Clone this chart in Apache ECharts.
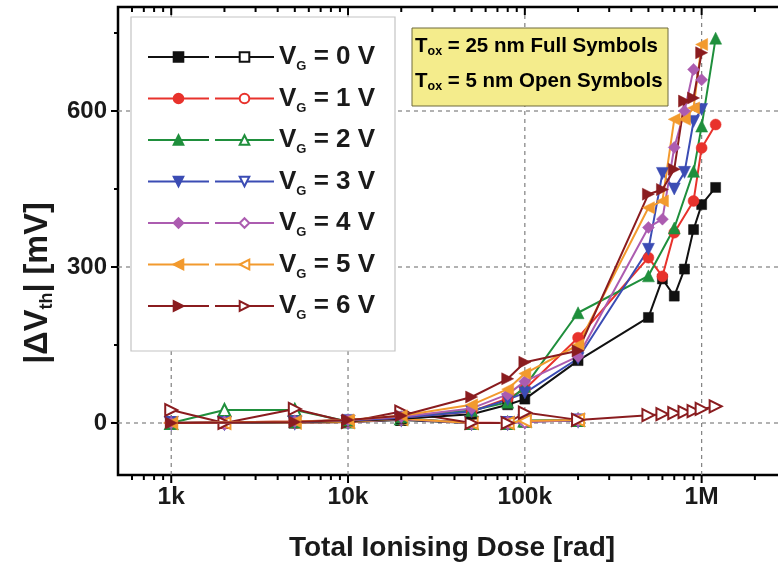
<!DOCTYPE html>
<html>
<head>
<meta charset="utf-8">
<script src="https://cdn.jsdelivr.net/npm/echarts@6/dist/echarts.min.js"></script>
<style>
  html, body { margin: 0; padding: 0; background: #fff; width: 778px; height: 567px; overflow: hidden; }
  #chart { width: 800px; height: 567px; }
</style>
</head>
<body>
<div id="chart"></div>
<script>
// Threshold-voltage shift vs. total ionising dose, 25 nm (full) and 5 nm (open) oxides
const doseThick = [1e3, 5e3, 1e4, 2e4, 5e4, 8e4, 1e5, 2e5, 5e5, 6e5, 7e5, 8e5, 9e5, 1e6, 1.2e6];
const thickVG0 = [0, 2, 4, 8, 17, 35, 46, 120, 203, 277, 244, 296, 372, 420, 453];
const thickVG1 = [0, 3, 5, 10, 22, 47, 65, 164, 318, 282, 366, null, 427, 529, 574];
const thickVG2 = [0, 2, 6, 12, 24, 40, 70, 212, 283, null, 375, null, 484, 571, 740];
const thickVG3 = [0, 2, 5, 10, 22, 45, 58, 124, 334, 480, 450, 482, 580, 603, null];
const thickVG4 = [0, 3, 6, 12, 28, 55, 80, 128, 376, 392, 530, 600, 680, 660, null];
const thickVG5 = [0, 3, 6, 14, 35, 65, 95, 150, 414, 427, 584, 584, 606, 728, null];
const thickVG6 = [0, 2, 6, 14, 50, 85, 117, 139, 440, 449, 488, 619, 625, 712, null];

const doseThin = [1e3, 2e3, 5e3, 1e4, 2e4, 5e4, 8e4, 1e5, 2e5, 5e5, 6e5, 7e5, 8e5, 9e5, 1e6, 1.2e6];
const thinVG0 = [0, 0, 1, 2, 6, 0, 0, 3, 5];
const thinVG1 = [0, 0, 1, 2, 7, 1, 0, 4, 5];
const thinVG2 = [0, 25, 25, 3, 9, 0, 0, 5, 6];
const thinVG3 = [0, 0, 1, 2, 7, 0, 0, 3, 5];
const thinVG4 = [0, 0, 2, 2, 8, 0, 0, 2, 6];
const thinVG5 = [0, 0, 1, 2, 8, 0, 0, 4, 6];
const thinVG6 = [25, 0, 27, 2, 22, 0, 0, 20, 6, 15, 17, 19, 21, 23, 27, 32];

const gateVoltages = [0, 1, 2, 3, 4, 5, 6];
const thickValues = [thickVG0, thickVG1, thickVG2, thickVG3, thickVG4, thickVG5, thickVG6];
const thinValues = [thinVG0, thinVG1, thinVG2, thinVG3, thinVG4, thinVG5, thinVG6];

// axis ranges and tick positions
const X_MIN = 500, X_MAX = 3e6;
const Y_MIN = -100, Y_MAX = 800;
const xTickMajor = [1e3, 1e4, 1e5, 1e6];
const xTickMinor = [600, 700, 800, 900,
  2e3, 3e3, 4e3, 5e3, 6e3, 7e3, 8e3, 9e3,
  2e4, 3e4, 4e4, 5e4, 6e4, 7e4, 8e4, 9e4,
  2e5, 3e5, 4e5, 5e5, 6e5, 7e5, 8e5, 9e5, 2e6];
const yTickMajor = [0, 300, 600];
const yTickMinor = [150, 450, 750];
const xLabelText = { 3: '1k', 4: '10k', 5: '100k', 6: '1M' };

// styling per gate voltage
const colors = ['#111111', '#e8322c', '#1f8f3c', '#3b4cb4', '#ac5cb0', '#f29a2e', '#8a1c1f'];
const shapes = ['Rect', 'Circle', 'Triangle', 'Triangle', 'Diamond', 'Triangle', 'Triangle'];
const rotations = [0, 0, 0, 180, 0, 90, -90];
const sizes = [10, 11, 12, 12, 12, 12, 12];

const FONT = '"Liberation Sans", Arial, sans-serif';

function pairs(doses, values) {
  const out = [];
  values.forEach((v, i) => { if (v !== null && v !== undefined) out.push([doses[i], v]); });
  return out;
}

function lineSeries(k, open) {
  const c = colors[k];
  return {
    name: (open ? 'thin' : 'thick') + gateVoltages[k],
    type: 'line',
    data: open ? pairs(doseThin, thinValues[k]) : pairs(doseThick, thickValues[k]),
    symbol: open ? 'empty' + shapes[k] : shapes[k].toLowerCase(),
    symbolSize: sizes[k],
    symbolRotate: rotations[k],
    color: c,
    lineStyle: { color: c, width: 2 },
    itemStyle: { color: c, borderColor: c, borderWidth: open ? 1.5 : 0.5 },
    z: open ? 3 : 4,
    silent: true
  };
}

const stroke = { stroke: '#000', lineWidth: 2 };

function xTickSeries(values, len) {
  return {
    type: 'custom', silent: true, z: 6, clip: false,
    data: values.map(v => [v, Y_MIN]),
    renderItem(params, api) {
      const b = api.coord([api.value(0), Y_MIN]);
      const t = api.coord([api.value(0), Y_MAX]);
      return { type: 'group', children: [
        { type: 'line', shape: { x1: b[0], y1: b[1], x2: b[0], y2: b[1] + len }, style: stroke },
        { type: 'line', shape: { x1: t[0], y1: t[1], x2: t[0], y2: t[1] + len }, style: stroke }
      ] };
    }
  };
}

function yTickSeries(values, len) {
  return {
    type: 'custom', silent: true, z: 6, clip: false,
    data: values.map(v => [X_MIN, v]),
    renderItem(params, api) {
      const p = api.coord([X_MIN, api.value(1)]);
      return { type: 'line', shape: { x1: p[0] - len, y1: p[1], x2: p[0], y2: p[1] }, style: stroke };
    }
  };
}

const dash = { stroke: '#808080', lineWidth: 1.2, lineDash: [4, 4] };

const gridLineSeries = [
  {
    type: 'custom', silent: true, z: 1,
    data: xTickMajor.map(v => [v, Y_MIN]),
    renderItem(params, api) {
      const a = api.coord([api.value(0), Y_MIN]);
      const b = api.coord([api.value(0), Y_MAX]);
      return { type: 'line', shape: { x1: a[0], y1: a[1], x2: b[0], y2: b[1] }, style: dash };
    }
  },
  {
    type: 'custom', silent: true, z: 1,
    data: yTickMajor.map(v => [X_MIN, v]),
    renderItem(params, api) {
      const a = api.coord([X_MIN, api.value(1)]);
      const b = api.coord([X_MAX, api.value(1)]);
      return { type: 'line', shape: { x1: a[0], y1: a[1], x2: b[0], y2: b[1] }, style: dash };
    }
  }
];

function legendRich(color) {
  return {
    v: { fontSize: 26, fontWeight: 'bold', fontFamily: FONT, color, lineHeight: 32 },
    s: { fontSize: 13, fontWeight: 'bold', fontFamily: FONT, color, lineHeight: 2, verticalAlign: 'bottom' }
  };
}
function legendLabel(name) {
  const k = name.replace(/^thi(ck|n)/, '');
  return '{v|V}{s|G}{v| = ' + k + ' V}';
}

const thickNames = gateVoltages.map(v => 'thick' + v);
const thinNames = gateVoltages.map(v => 'thin' + v);

const legendCommon = {
  orient: 'vertical', top: 44, padding: 0, itemHeight: 12, itemGap: 12.5,
  selectedMode: false, formatter: legendLabel, z: 5
};

const noteRich = {
  a: { fontSize: 20.5, fontWeight: 'bold', fontFamily: FONT, color: '#1a1a1a', lineHeight: 24 },
  b: { fontSize: 12.5, fontWeight: 'bold', fontFamily: FONT, color: '#1a1a1a', lineHeight: 2, verticalAlign: 'bottom' }
};

const option = {
  animation: false,
  backgroundColor: '#fff',
  textStyle: { fontFamily: FONT },
  grid: { left: 118, right: 14, top: 7, bottom: 91, show: true, borderColor: '#000', borderWidth: 2.5, backgroundColor: 'transparent' },
  xAxis: {
    type: 'log', logBase: 10, min: X_MIN, max: X_MAX,
    axisLine: { show: false }, axisTick: { show: false }, splitLine: { show: false },
    axisLabel: {
      margin: 10, fontSize: 24.5, fontWeight: 'bold', color: '#1a1a1a', fontFamily: FONT,
      formatter(v) {
        const e = Math.log10(v);
        const r = Math.round(e);
        return Math.abs(e - r) < 1e-6 && xLabelText[r] ? xLabelText[r] : '';
      }
    },
    name: 'Total Ionising Dose [rad]', nameLocation: 'middle', nameGap: 59,
    nameTextStyle: { fontSize: 28, fontWeight: 'bold', color: '#1a1a1a', fontFamily: FONT }
  },
  yAxis: {
    type: 'value', min: Y_MIN, max: Y_MAX, interval: 100,
    axisLine: { show: false }, axisTick: { show: false }, splitLine: { show: false },
    axisLabel: {
      margin: 11, fontSize: 24, fontWeight: 'bold', color: '#1a1a1a', fontFamily: FONT,
      formatter(v) { return (v >= 0 && v % 300 === 0) ? String(v) : ''; }
    },
    name: '{a||ΔV}{b|th}{a|| [mV]}', nameLocation: 'middle', nameGap: 27, nameRotate: 90,
    nameTextStyle: {
      padding: [0, 84, 0, 0],
      rich: {
        a: { fontSize: 32.5, fontWeight: 'bold', fontFamily: FONT, color: '#1a1a1a', lineHeight: 36 },
        b: { fontSize: 18, fontWeight: 'bold', fontFamily: FONT, color: '#1a1a1a', lineHeight: 2, verticalAlign: 'bottom' }
      }
    }
  },
  legend: [
    Object.assign({}, legendCommon, { data: thickNames, left: 147, itemWidth: 61, textStyle: { rich: legendRich('rgba(0,0,0,0)') } }),
    Object.assign({}, legendCommon, { data: thinNames, left: 214, itemWidth: 59, textStyle: { rich: legendRich('#1a1a1a') } })
  ],
  graphic: [
    { type: 'rect', z: 3, shape: { x: 131, y: 17, width: 264, height: 334 }, style: { fill: '#fff', stroke: '#c4c4c4', lineWidth: 1.2 } },
    { type: 'rect', z: 3, shape: { x: 412, y: 28, width: 256, height: 78 }, style: { fill: '#f4ec8c', stroke: '#6e6a3c', lineWidth: 1 } },
    { type: 'text', z: 4, x: 415, y: 46, style: { text: '{a|T}{b|ox}{a| = 25 nm Full Symbols}', rich: noteRich, verticalAlign: 'middle' } },
    { type: 'text', z: 4, x: 415, y: 81, style: { text: '{a|T}{b|ox}{a| = 5 nm Open Symbols}', rich: noteRich, verticalAlign: 'middle' } }
  ],
  series: [].concat(
    gridLineSeries,
    gateVoltages.map((v, k) => lineSeries(k, true)),
    gateVoltages.map((v, k) => lineSeries(k, false)),
    [xTickSeries(xTickMajor, 8), xTickSeries(xTickMinor, 5), yTickSeries(yTickMajor, 7), yTickSeries(yTickMinor, 4)]
  )
};

const chart = echarts.init(document.getElementById('chart'), null, { renderer: 'canvas' });
chart.setOption(option);
</script>
</body>
</html>
